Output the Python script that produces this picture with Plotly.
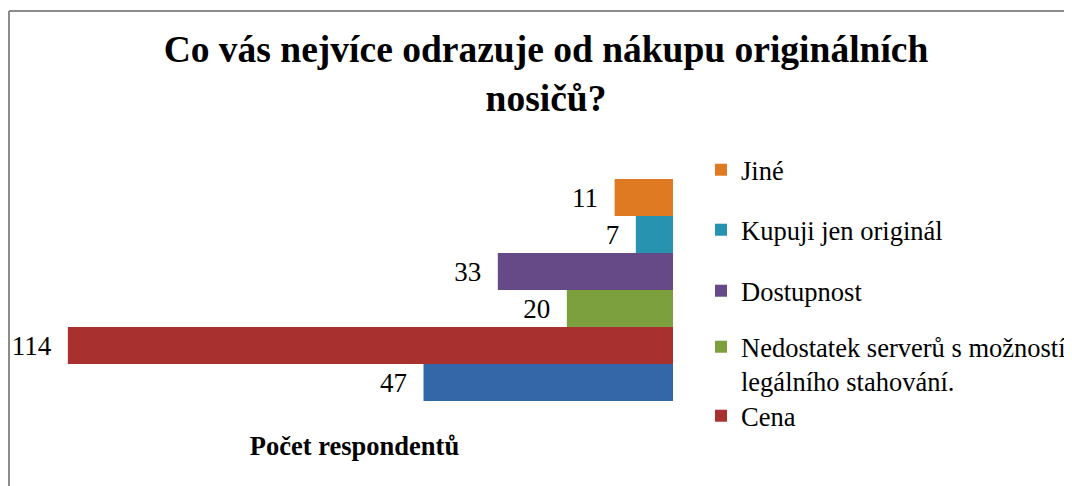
import plotly.graph_objects as go

# ---- data (bottom bar first, as drawn) ----
category = "Počet respondentů"
series_names = ["", "Cena", "Nedostatek serverů s možností<br>legálního stahování.",
                "Dostupnost", "Kupuji jen originál", "Jiné"]
values = [47, 114, 20, 33, 7, 11]
colors = ["#3467A8", "#A8302E", "#7DA03E", "#664A88", "#2793B0", "#DF7A22"]
show_in_legend = [False, True, True, True, True, True]

title_text = "Co vás nejvíce odrazuje od nákupu originálních<br>nosičů?"

W, H = 1072, 486
OFF = 8  # page body margin: screen px = figure px + OFF
FONT = '"Liberation Serif", "Times New Roman", Times, serif'

# legend item centres (screen px)
legend_centers_px = [None, 416, 364, 291, 230, 170]

fig = go.Figure()
legend_layouts = {}
k = 0
for name, v, c, show, ly in zip(series_names, values, colors, show_in_legend, legend_centers_px):
    kw = {}
    if show:
        k += 1
        lname = "legend" if k == 1 else f"legend{k}"
        kw["legend"] = lname
        legend_layouts[lname] = dict(
            x=(701 - OFF) / W, xref="container", xanchor="left",
            y=1 - (ly - OFF) / H, yref="container", yanchor="middle",
            bgcolor="rgba(0,0,0,0)", borderwidth=0,
            font=dict(family=FONT, size=26.5, color="#000000"),
            valign="top",
        )
    fig.add_trace(go.Bar(
        y=[category], x=[v], name=name, orientation="h",
        marker=dict(color=c, line=dict(width=0)),
        text=[v], texttemplate="%{x}\u00a0\u00a0", textposition="outside",
        textfont=dict(family=FONT, size=27, color="#000000"),
        constraintext="none", cliponaxis=False,
        showlegend=show, **kw,
    ))

# plot area (screen px): x 36..673, y 160..420
L, R, T, B = 36 - OFF, 673 - OFF, 160 - OFF, 420 - OFF
fig.update_layout(
    width=W, height=H,
    margin=dict(l=L, r=W - R, t=T, b=H - B),
    barmode="group", bargap=1 - 222 / (B - T), bargroupgap=0,
    paper_bgcolor="white", plot_bgcolor="white",
    font=dict(family=FONT, color="#000000"),
    title=dict(text=f"<b>{title_text}</b>", x=(546 - OFF) / W, xref="container", xanchor="center",
               y=1 - (62 - OFF) / H, yref="container", yanchor="middle",
               font=dict(family=FONT, size=37.5, color="#000000")),
    xaxis=dict(range=[120, 0], showticklabels=False, showgrid=False, zeroline=False,
               showline=False, ticks="",
               title=dict(text=f"<b>{category}</b>", standoff=16,
                          font=dict(family=FONT, size=26.5, color="#000000"))),
    yaxis=dict(showticklabels=False, showgrid=False, zeroline=False, showline=False, ticks=""),
    **legend_layouts,
)

# outer chart border: only left and top edges are visible (cropped)
def px2x(px):
    return (px - OFF - L) / (R - L)

def py2y(py):
    return (B - (py - OFF)) / (B - T)

border = dict(color="#8c8c8c", width=2)
fig.add_shape(type="line", xref="paper", yref="paper",
              x0=px2x(9), x1=px2x(1100), y0=py2y(11), y1=py2y(11), line=border, layer="below")
fig.add_shape(type="line", xref="paper", yref="paper",
              x0=px2x(9), x1=px2x(9), y0=py2y(11), y1=py2y(520), line=border, layer="below")

fig.write_html(
    "out.html",
    config={"displayModeBar": False},
    post_script="document.documentElement.style.overflow='hidden';document.body.style.overflow='hidden';",
)
